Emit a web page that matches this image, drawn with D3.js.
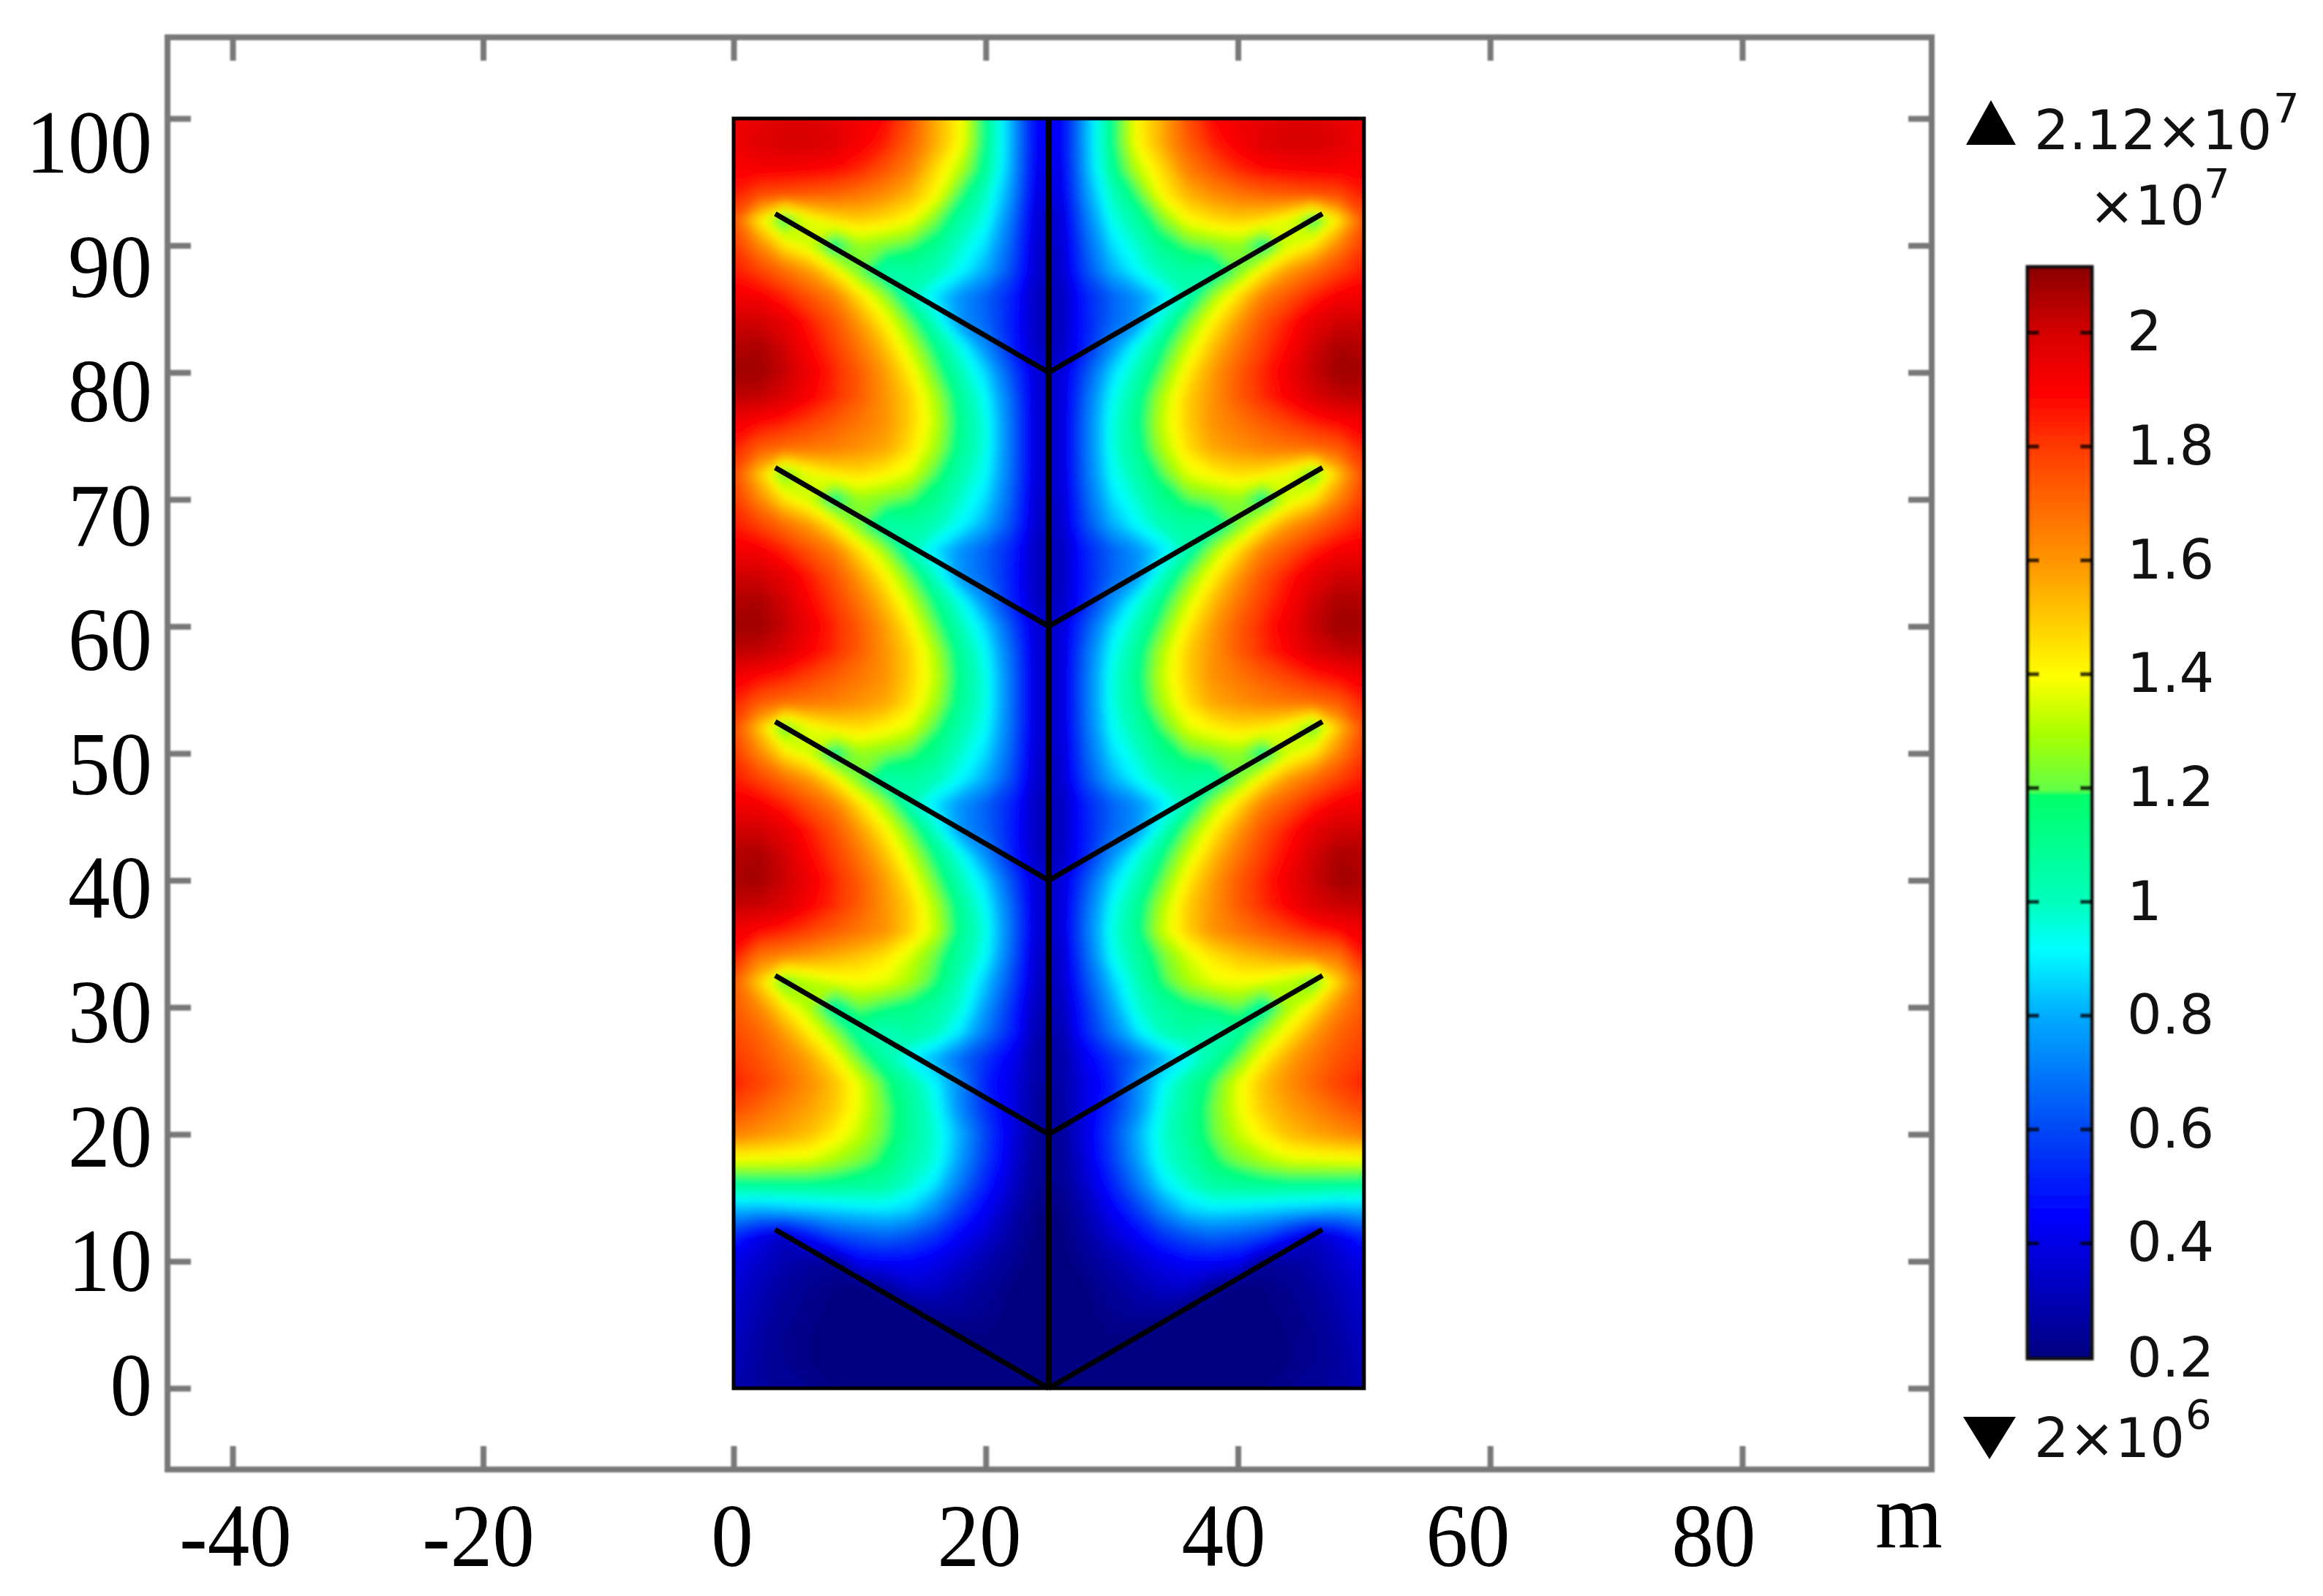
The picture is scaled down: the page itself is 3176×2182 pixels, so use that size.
<!DOCTYPE html>
<html><head><meta charset="utf-8">
<script src="https://cdn.jsdelivr.net/npm/d3@7"></script>
<style>html,body{margin:0;background:#fff}svg{display:block}</style></head>
<body><svg id="c" width="3176" height="2182"></svg>
<script>
const xTicks=[-40,-20,0,20,40,60,80];
const yTicks=[0,10,20,30,40,50,60,70,80,90,100];
const barTicks=[0.2,0.4,0.6,0.8,1,1.2,1.4,1.6,1.8,2];
const colorValues=[0.2,0.45,0.6,0.8,0.92,1.0,1.19,1.2,1.3,1.4,1.6,1.8,1.9,2.0,2.12];
const colorStops=["#000080","#0000ff","#0046f5","#00aaff","#00ffff","#00ffbe","#00ff69","#64ff46","#aaff00","#ffff00","#ff9600","#ff3c00","#ff0000","#d70000","#8b0000"];
const finRoots=[0,20,40,60,80];
const finTipX=3.3, finRise=12.5, centerX=25, domainX=[0,50], domainY=[0,100];
// surface values (x 10^7) for x = 0,2,...,24 (mirror about x = 25), rows y = 100,98,...,0
const fieldRows=[
[1.94,1.97,1.99,1.99,1.97,1.94,1.90,1.77,1.57,1.42,1.12,.82,.44],
[1.95,1.99,2.01,2.01,1.99,1.93,1.86,1.73,1.57,1.41,1.12,.82,.44],
[1.92,1.93,1.93,1.92,1.90,1.85,1.76,1.66,1.48,1.32,1.09,.81,.42],
[1.87,1.78,1.76,1.74,1.72,1.68,1.63,1.55,1.42,1.18,1.01,.77,.40],
[1.75,1.45,1.15,1.38,1.47,1.50,1.47,1.41,1.24,1.07,.95,.71,.37],
[1.82,1.65,1.46,1.35,1.10,1.28,1.24,1.20,1.12,.99,.88,.66,.36],
[1.87,1.80,1.70,1.60,1.44,1.22,1.05,1.08,1.03,.93,.81,.62,.35],
[1.94,1.93,1.86,1.76,1.66,1.47,1.28,1.03,.89,.76,.66,.53,.33],
[2.02,2.02,1.97,1.87,1.76,1.60,1.43,1.22,1.00,.76,.67,.52,.33],
[2.07,2.08,2.02,1.91,1.81,1.68,1.53,1.34,1.13,.95,.75,.53,.34],
[2.09,2.10,2.04,1.95,1.85,1.74,1.60,1.44,1.22,1.03,.87,.63,.37],
[2.05,2.04,2.00,1.92,1.84,1.74,1.62,1.50,1.31,1.09,.93,.68,.37],
[1.94,1.90,1.86,1.80,1.74,1.68,1.62,1.50,1.34,1.11,.96,.70,.37],
[1.86,1.74,1.70,1.68,1.66,1.62,1.58,1.47,1.30,1.10,.96,.70,.37],
[1.78,1.52,1.20,1.38,1.45,1.47,1.43,1.37,1.20,1.05,.93,.69,.37],
[1.82,1.65,1.46,1.35,1.10,1.28,1.24,1.20,1.12,.99,.88,.66,.36],
[1.87,1.80,1.70,1.60,1.44,1.22,1.05,1.08,1.03,.93,.81,.62,.35],
[1.94,1.93,1.86,1.76,1.66,1.47,1.28,1.03,.89,.76,.66,.53,.33],
[2.02,2.02,1.97,1.87,1.76,1.60,1.43,1.22,1.00,.76,.67,.52,.33],
[2.07,2.08,2.02,1.91,1.81,1.68,1.53,1.34,1.13,.95,.75,.53,.34],
[2.09,2.10,2.04,1.95,1.85,1.74,1.60,1.44,1.22,1.03,.87,.63,.37],
[2.05,2.04,2.00,1.92,1.84,1.74,1.62,1.50,1.31,1.09,.93,.68,.37],
[1.94,1.90,1.86,1.80,1.74,1.68,1.62,1.50,1.34,1.11,.96,.70,.37],
[1.86,1.74,1.70,1.68,1.66,1.62,1.58,1.47,1.30,1.10,.96,.70,.37],
[1.78,1.52,1.20,1.38,1.45,1.47,1.43,1.37,1.20,1.05,.93,.69,.37],
[1.82,1.65,1.46,1.35,1.10,1.28,1.24,1.20,1.12,.99,.88,.66,.36],
[1.87,1.80,1.70,1.60,1.44,1.22,1.05,1.08,1.03,.93,.81,.62,.35],
[1.94,1.93,1.86,1.76,1.66,1.47,1.28,1.03,.89,.76,.66,.53,.33],
[2.02,2.02,1.97,1.87,1.76,1.60,1.43,1.22,1.00,.76,.67,.52,.33],
[2.07,2.08,2.02,1.91,1.81,1.68,1.53,1.34,1.13,.95,.75,.53,.34],
[2.08,2.09,2.03,1.95,1.85,1.74,1.60,1.44,1.22,1.03,.87,.63,.37],
[2.04,2.03,2.00,1.92,1.84,1.74,1.62,1.50,1.31,1.09,.93,.68,.37],
[1.94,1.90,1.86,1.80,1.74,1.68,1.62,1.50,1.34,1.11,.96,.70,.37],
[1.88,1.68,1.64,1.60,1.56,1.52,1.46,1.36,1.22,1.07,.93,.67,.35],
[1.74,1.50,1.20,1.32,1.38,1.40,1.38,1.30,1.18,1.02,.85,.62,.34],
[1.75,1.64,1.46,1.30,1.05,1.22,1.16,1.13,1.07,.98,.78,.56,.32],
[1.78,1.72,1.60,1.44,1.27,1.08,1.02,1.07,1.02,.89,.71,.53,.30],
[1.82,1.76,1.68,1.58,1.43,1.22,1.07,.92,.82,.68,.56,.44,.28],
[1.86,1.80,1.72,1.63,1.53,1.38,1.19,1.07,.92,.74,.52,.41,.28],
[1.78,1.72,1.65,1.59,1.51,1.38,1.22,1.09,.96,.74,.56,.41,.27],
[1.66,1.62,1.58,1.53,1.44,1.34,1.21,1.09,.98,.81,.60,.41,.26],
[1.40,1.39,1.38,1.37,1.31,1.24,1.17,1.05,.97,.78,.58,.39,.25],
[1.08,1.09,1.10,1.10,1.10,1.09,1.07,.99,.89,.70,.52,.36,.24],
[.82,.80,.82,.84,.86,.88,.89,.86,.74,.58,.44,.31,.22],
[.54,.42,.34,.48,.60,.64,.67,.63,.56,.45,.37,.28,.21],
[.42,.36,.30,.27,.26,.44,.46,.46,.42,.36,.30,.25,.20],
[.38,.32,.27,.24,.22,.21,.26,.36,.35,.30,.26,.22,.20],
[.36,.30,.25,.23,.21,.20,.20,.20,.26,.26,.24,.21,.20],
[.34,.28,.24,.22,.21,.20,.20,.20,.20,.20,.22,.21,.20],
[.32,.27,.24,.22,.21,.20,.20,.20,.20,.20,.20,.20,.20],
[.30,.27,.25,.24,.22,.21,.21,.20,.20,.20,.20,.20,.20]
];
const yLabelNames=yTicks.map(String), xLabelNames=xTicks.map(String);

const svg=d3.select("#c");
const x=d3.scaleLinear().domain([-40,0,80]).range([318,1003,2382]);
const y=d3.scaleLinear().domain([0,100]).range([1898,162]);
const labelX=d3.scaleLinear().domain(xTicks).range([322,654,1001,1339,1673,2007,2343]);
const labelY=d3.scaleLinear().domain([0,100]).range([1935,236]);
const barY=d3.scaleLinear().domain([0.2,2.12]).range([1855,361]);
const color=d3.scaleLinear().domain(colorValues).range(colorStops).clamp(true);
const frame={l:229,r:2641,t:51,b:2009}, serif="'Liberation Serif',serif", sans="'DejaVu Sans',sans-serif";

const defs=svg.append("defs");
defs.append("clipPath").attr("id","dom").append("rect")
 .attr("x",x(domainX[0])).attr("y",y(domainY[1])).attr("width",x(domainX[1])-x(domainX[0])).attr("height",y(domainY[0])-y(domainY[1]));
defs.append("filter").attr("id","soft").attr("filterUnits","userSpaceOnUse").attr("x",900).attr("y",60).attr("width",1100).attr("height",1950)
 .append("feGaussianBlur").attr("stdDeviation",6);
defs.append("filter").attr("id","soft2").attr("filterUnits","userSpaceOnUse").attr("x",0).attr("y",0).attr("width",3176).attr("height",2182)
 .append("feGaussianBlur").attr("stdDeviation",1);

// heat map from mirrored grid
const nx=fieldRows[0].length*2, ny=fieldRows.length;
const flat=fieldRows.flatMap(r=>r.concat(r.slice().reverse()));
const levels=d3.range(0.2,2.13,0.02);
const contours=d3.contours().size([nx,ny]).thresholds(levels)(flat);
const geo=d3.geoPath(d3.geoTransform({point(cx,cy){this.stream.point(x((cx-0.5)*2),y(100-(cy-0.5)*2));}}));
const heat=svg.append("g").attr("clip-path","url(#dom)").append("g").attr("filter","url(#soft)");
heat.append("rect").attr("x",x(-2)).attr("y",y(102)).attr("width",x(52)-x(-2)).attr("height",y(-2)-y(102)).attr("fill",color(0.2));
heat.selectAll("path").data(contours).join("path").attr("d",geo).attr("fill",d=>color(d.value)).attr("stroke",d=>color(d.value)).attr("stroke-width",0.5);

// domain outline, centre line, fins
svg.append("rect").attr("x",x(domainX[0])).attr("y",y(domainY[1])).attr("width",x(domainX[1])-x(domainX[0])).attr("height",y(domainY[0])-y(domainY[1]))
 .attr("fill","none").attr("stroke","#000").attr("stroke-width",5);
const seg=d3.line().x(d=>x(d[0])).y(d=>y(d[1]));
svg.append("path").attr("d",seg([[centerX,domainY[0]],[centerX,domainY[1]]])).attr("stroke","#000").attr("stroke-width",8).attr("fill","none");
const fins=finRoots.flatMap(r=>[[[centerX,r],[finTipX,r+finRise]],[[centerX,r],[domainX[1]-finTipX,r+finRise]]]);
svg.append("g").selectAll("path").data(fins).join("path").attr("d",seg).attr("stroke","#000").attr("stroke-width",7).attr("fill","none");

// axes frame
const axG=svg.append("g").attr("filter","url(#soft2)");
axG.append("rect").attr("x",frame.l).attr("y",frame.t).attr("width",frame.r-frame.l).attr("height",frame.b-frame.t)
 .attr("fill","none").attr("stroke","#787878").attr("stroke-width",8);
function styl(g){g.select(".domain").remove();g.selectAll("line").attr("stroke","#787878").attr("stroke-width",8);g.selectAll("text").remove();}
const tl=32;
axG.append("g").attr("transform",`translate(0,${frame.b})`).call(d3.axisBottom(x).tickValues(xTicks).tickSize(-tl)).call(styl);
axG.append("g").attr("transform",`translate(0,${frame.t})`).call(d3.axisTop(x).tickValues(xTicks).tickSize(-tl)).call(styl);
axG.append("g").attr("transform",`translate(${frame.l},0)`).call(d3.axisLeft(y).tickValues(yTicks).tickSize(-tl)).call(styl);
axG.append("g").attr("transform",`translate(${frame.r},0)`).call(d3.axisRight(y).tickValues(yTicks).tickSize(-tl)).call(styl);

// tick labels
const yStretch=1.07, fs=115;
svg.append("g").selectAll("text").data(yTicks).join("text").text((d,i)=>yLabelNames[i])
 .attr("transform",d=>`translate(208,${labelY(d)}) scale(1,${yStretch})`).attr("text-anchor","end")
 .attr("font-family",serif).attr("font-size",fs).attr("fill","#000");
svg.append("g").selectAll("text").data(xTicks).join("text").text((d,i)=>xLabelNames[i])
 .attr("transform",d=>`translate(${labelX(d)},2141) scale(1,${yStretch})`).attr("text-anchor","middle")
 .attr("font-family",serif).attr("font-size",fs).attr("fill","#000");
svg.append("text").text("m").attr("transform",`translate(2564,2115) scale(1,${yStretch})`)
 .attr("font-family",serif).attr("font-size",118).attr("fill","#000");

// colour bar
const grad=defs.append("linearGradient").attr("id","bar").attr("x1",0).attr("x2",0).attr("y1",1).attr("y2",0);
grad.selectAll("stop").data(colorValues).join("stop")
 .attr("offset",d=>(d-0.2)/1.92).attr("stop-color",d=>color(d));
const bx0=2772,bx1=2860;
const barG=svg.append("g").attr("filter","url(#soft2)");
barG.append("rect").attr("x",bx0).attr("y",barY(2.115)).attr("width",bx1-bx0).attr("height",barY(0.197)-barY(2.115)).attr("fill","url(#bar)").attr("stroke","#111").attr("stroke-width",5);
const barTickStyle=g=>{g.select(".domain").remove();g.selectAll("line").attr("stroke","#000").attr("stroke-opacity",0.75).attr("stroke-width",6);g.selectAll("text").remove();};
barG.append("g").attr("transform",`translate(${bx0},0)`).call(d3.axisLeft(barY).tickValues(barTicks.slice(1)).tickSize(-16)).call(barTickStyle);
barG.append("g").attr("transform",`translate(${bx1},0)`).call(d3.axisRight(barY).tickValues(barTicks.slice(1)).tickSize(-16)).call(barTickStyle);
const lfs=75, tc="#111";
svg.append("g").selectAll("text").data(barTicks).join("text").text(d=>String(d))
 .attr("x",2908).attr("y",d=>barY(d)+(d===0.2?27:25)).attr("font-family",sans).attr("font-size",lfs).attr("fill",tc);
function sci(px,py,base,sup,sx,sy){
 svg.append("text").text(base).attr("x",px).attr("y",py).attr("font-family",sans).attr("font-size",lfs).attr("fill",tc);
 svg.append("text").text(sup).attr("x",sx).attr("y",sy).attr("font-family",sans).attr("font-size",56).attr("fill",tc);
}
sci(2781,204,"2.12×10","7",3108,167);
sci(2856,307,"×10","7",3013,270);
sci(2781,1992,"2×10","6",2988,1953);
const tri=d3.line();
svg.append("path").attr("d",tri([[2688,198],[2722,137],[2756,198]])+"Z").attr("fill","#000");
svg.append("path").attr("d",tri([[2684,1937],[2756,1937],[2720,1995]])+"Z").attr("fill","#000");
</script></body></html>
